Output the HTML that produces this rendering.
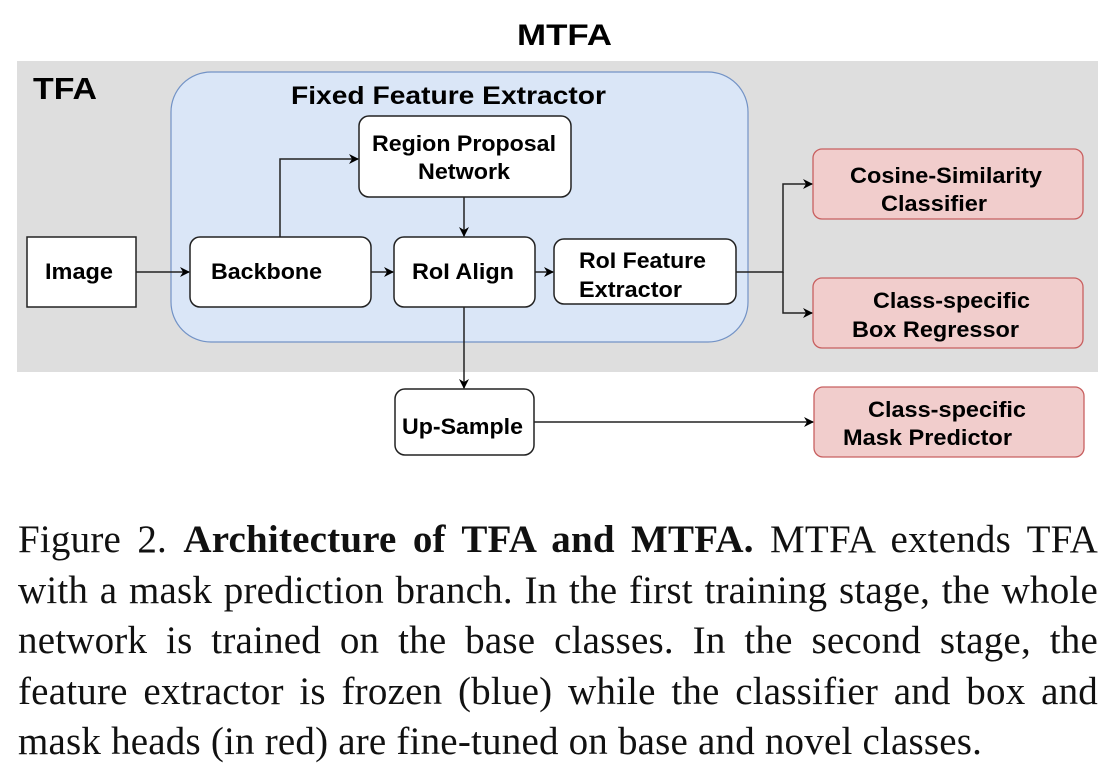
<!DOCTYPE html>
<html><head><meta charset="utf-8"><style>
body{margin:0;width:1118px;height:784px;background:#fff;overflow:hidden;position:relative}
svg{position:absolute;left:0;top:0}
.cap{position:absolute;left:18px;top:515px;width:1080px;font-family:"Liberation Serif",serif;font-size:39px;letter-spacing:0.2px;line-height:50.5px;text-align:justify;text-align-last:justify;color:#111}
.cap span{display:block;white-space:nowrap}
text{font-family:"Liberation Sans",sans-serif;font-weight:bold;fill:#000}
</style></head><body>
<svg width="1118" height="784">
<defs><marker id="a" markerWidth="10" markerHeight="10" refX="9" refY="5" orient="auto" markerUnits="userSpaceOnUse"><path d="M0,0 L10,5 L0,10 L3,5 z" fill="#000"/></marker></defs>
<text x="517" y="45" font-size="30" textLength="95" lengthAdjust="spacingAndGlyphs">MTFA</text>
<rect x="17" y="61" width="1081" height="311" fill="#dedede"/>
<text x="33" y="99" font-size="31" textLength="64" lengthAdjust="spacingAndGlyphs">TFA</text>
<rect x="171" y="72" width="577" height="270" rx="40" fill="#dae6f7" stroke="#7393c6" stroke-width="1.2"/>
<text x="291" y="104" font-size="25" textLength="315" lengthAdjust="spacingAndGlyphs">Fixed Feature Extractor</text>
<g stroke="#222" stroke-width="1.5">
<rect x="27" y="237" width="109" height="70" fill="#fff"/>
<rect x="190" y="237" width="181" height="70" rx="10" fill="#fff"/>
<rect x="359" y="116" width="212" height="81" rx="10" fill="#fff"/>
<rect x="394" y="237" width="141" height="70" rx="10" fill="#fff"/>
<rect x="554" y="239" width="182" height="65" rx="10" fill="#fff"/>
<rect x="395" y="389" width="139" height="66" rx="10" fill="#fff"/>
</g>
<g stroke="#c86060" stroke-width="1.3" fill="#f1cdcc">
<rect x="813" y="149" width="270" height="70" rx="9"/>
<rect x="813" y="278" width="270" height="70" rx="9"/>
<rect x="814" y="387" width="270" height="70" rx="9"/>
</g>
<g stroke="#222" stroke-width="1.5" fill="none">
<path d="M136,272 H189" marker-end="url(#a)"/>
<path d="M371,272 H393" marker-end="url(#a)"/>
<path d="M535,272 H553" marker-end="url(#a)"/>
<path d="M280,237 V159 H358" marker-end="url(#a)"/>
<path d="M464,197 V236" marker-end="url(#a)"/>
<path d="M464,307 V388" marker-end="url(#a)"/>
<path d="M736,272 H783 V184 H812" marker-end="url(#a)"/>
<path d="M783,272 V313 H812" marker-end="url(#a)"/>
<path d="M534,422 H813" marker-end="url(#a)"/>
</g>
<g font-size="22">
<text x="45" y="279" textLength="68" lengthAdjust="spacingAndGlyphs">Image</text>
<text x="211" y="279" textLength="111" lengthAdjust="spacingAndGlyphs">Backbone</text>
<text x="372" y="151" textLength="184" lengthAdjust="spacingAndGlyphs">Region Proposal</text>
<text x="418" y="179" textLength="92" lengthAdjust="spacingAndGlyphs">Network</text>
<text x="412" y="279" textLength="102" lengthAdjust="spacingAndGlyphs">RoI Align</text>
<text x="579" y="268" textLength="127" lengthAdjust="spacingAndGlyphs">RoI Feature</text>
<text x="579" y="297" textLength="103" lengthAdjust="spacingAndGlyphs">Extractor</text>
<text x="402" y="434" textLength="121" lengthAdjust="spacingAndGlyphs">Up-Sample</text>
<text x="850" y="183" textLength="192" lengthAdjust="spacingAndGlyphs">Cosine-Similarity</text>
<text x="881" y="211" textLength="106" lengthAdjust="spacingAndGlyphs">Classifier</text>
<text x="873" y="308" textLength="157" lengthAdjust="spacingAndGlyphs">Class-specific</text>
<text x="852" y="337" textLength="167" lengthAdjust="spacingAndGlyphs">Box Regressor</text>
<text x="868" y="417" textLength="158" lengthAdjust="spacingAndGlyphs">Class-specific</text>
<text x="843" y="445" textLength="169" lengthAdjust="spacingAndGlyphs">Mask Predictor</text>
</g>
</svg>
<div class="cap">
<span>Figure 2. <b>Architecture of TFA and MTFA.</b> MTFA extends TFA</span>
<span>with a mask prediction branch. In the first training stage, the whole</span>
<span>network is trained on the base classes. In the second stage, the</span>
<span>feature extractor is frozen (blue) while the classifier and box and</span>
<span style="text-align-last:left">mask heads (in red) are fine-tuned on base and novel classes.</span>
</div>
</body></html>
